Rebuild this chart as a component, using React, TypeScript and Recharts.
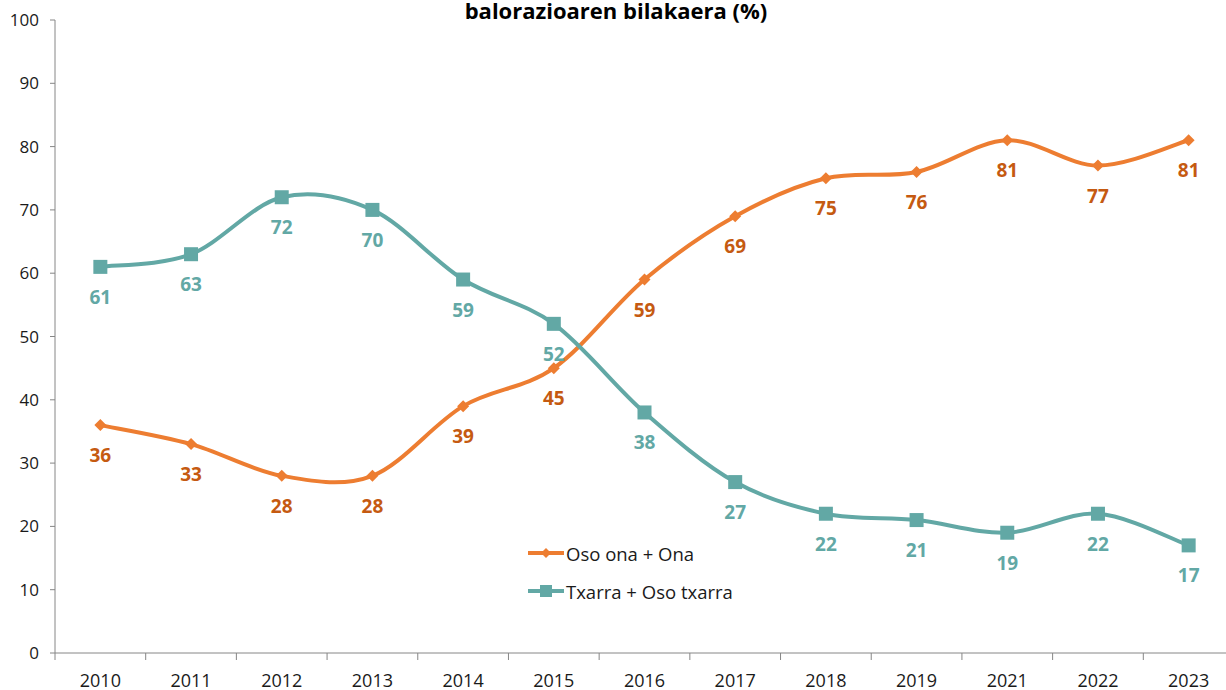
import React from 'react';
import { LineChart, Line, XAxis, YAxis, LabelList } from 'recharts';

const years = ['2010', '2011', '2012', '2013', '2014', '2015', '2016', '2017', '2018', '2019', '2021', '2022', '2023'];
const good = [36, 33, 28, 28, 39, 45, 59, 69, 75, 76, 81, 77, 81];
const bad = [61, 63, 72, 70, 59, 52, 38, 27, 22, 21, 19, 22, 17];
const yTicks = [0, 10, 20, 30, 40, 50, 60, 70, 80, 90, 100];

const goodName = 'Oso ona + Ona';
const badName = 'Txarra + Oso txarra';

const data = years.map((year, i) => ({ year, good: good[i], bad: bad[i] }));

const ORANGE = '#ED7D31';
const ORANGE_TEXT = '#C55A11';
const TEAL = '#62A8A5';
const AXIS = '#868686';
const FONT = '"Open Sans", "Liberation Sans", sans-serif';

const CHART_W = 1240;
const CHART_H = 690;
const PLOT_LEFT = 55;
const PLOT_RIGHT = 1234;
const HALF_BAND = (PLOT_RIGHT - PLOT_LEFT) / years.length / 2;

if (typeof document !== 'undefined') document.body.style.margin = '0';

// Excel-like smoothing (Catmull-Rom through the points)
const excelCurve = (context: any) => {
  let pts: [number, number][] = [];
  return {
    areaStart() {},
    areaEnd() {},
    lineStart() {
      pts = [];
    },
    point(x: number, y: number) {
      pts.push([+x, +y]);
    },
    lineEnd() {
      if (!pts.length) return;
      context.moveTo(pts[0][0], pts[0][1]);
      for (let i = 0; i < pts.length - 1; i++) {
        const p0 = pts[i - 1] || pts[i];
        const p1 = pts[i];
        const p2 = pts[i + 1];
        const p3 = pts[i + 2] || p2;
        context.bezierCurveTo(
          p1[0] + (p2[0] - p0[0]) / 6,
          p1[1] + (p2[1] - p0[1]) / 6,
          p2[0] - (p3[0] - p1[0]) / 6,
          p2[1] - (p3[1] - p1[1]) / 6,
          p2[0],
          p2[1]
        );
      }
    },
  };
};

const Diamond = (props: any) => {
  const { cx, cy } = props;
  if (cx == null || cy == null) return null;
  const r = 6;
  return <path d={`M${cx},${cy - r}L${cx + r},${cy}L${cx},${cy + r}L${cx - r},${cy}Z`} fill={ORANGE} />;
};

const Square = (props: any) => {
  const { cx, cy } = props;
  if (cx == null || cy == null) return null;
  return <rect x={cx - 7} y={cy - 7} width={14} height={14} fill={TEAL} />;
};

const makeLabel = (color: string) => (props: any) => {
  const { x, y, value } = props;
  return (
    <text
      x={x}
      y={y + 37}
      textAnchor="middle"
      fill={color}
      fontSize={19}
      fontWeight="bold"
      fontFamily={FONT}
    >
      {value}
    </text>
  );
};

const XTick = (props: any) => {
  const { x, y, payload, index } = props;
  return (
    <g>
      {index === 0 && <line x1={x - HALF_BAND} x2={x - HALF_BAND} y1={y} y2={y + 7} stroke={AXIS} />}
      <line x1={x + HALF_BAND} x2={x + HALF_BAND} y1={y} y2={y + 7} stroke={AXIS} />
      <text x={x} y={y + 34} textAnchor="middle" fill="#1a1a1a" fontSize={18} fontFamily={FONT}>
        {payload.value}
      </text>
    </g>
  );
};

const LegendBox = () => (
  <div
    style={{
      position: 'absolute',
      left: 527,
      top: 534,
      fontFamily: FONT,
      fontSize: 18.5,
      color: '#1a1a1a',
      zIndex: 1,
    }}
  >
    {[
      { name: goodName, color: ORANGE, marker: 'diamond' },
      { name: badName, color: TEAL, marker: 'square' },
    ].map((item) => (
      <div key={item.name} style={{ display: 'flex', alignItems: 'center', height: 38 }}>
        <svg width={38} height={16} style={{ marginRight: 1 }}>
          <line x1={1} x2={37} y1={8} y2={8} stroke={item.color} strokeWidth={4} />
          {item.marker === 'diamond' ? (
            <path d="M19,3L24,8L19,13L14,8Z" fill={item.color} />
          ) : (
            <rect x={13} y={2} width={12} height={12} fill={item.color} />
          )}
        </svg>
        <span>{item.name}</span>
      </div>
    ))}
  </div>
);

const App: React.FC = () => {
  return (
    <div style={{ width: 1226, height: 690, overflow: 'hidden', position: 'relative', background: '#fff' }}>
      <div
        style={{
          position: 'absolute',
          left: 0,
          width: 1232,
          top: -5,
          lineHeight: '30px',
          textAlign: 'center',
          fontFamily: FONT,
          fontWeight: 'bold',
          fontSize: 22,
          color: '#000',
          zIndex: 1,
        }}
      >
        balorazioaren bilakaera (%)
      </div>
      <LegendBox />
      <LineChart
        width={CHART_W}
        height={CHART_H}
        data={data}
        margin={{ top: 20, right: CHART_W - PLOT_RIGHT, left: 0, bottom: 0 }}
      >
        <XAxis
          dataKey="year"
          scale="band"
          height={37}
          axisLine={{ stroke: AXIS }}
          tickLine={false}
          tickSize={0}
          tickMargin={0}
          interval={0}
          tick={<XTick />}
        />
        <YAxis
          width={PLOT_LEFT}
          domain={[0, 100]}
          ticks={yTicks}
          interval={0}
          axisLine={{ stroke: AXIS }}
          tickLine={{ stroke: AXIS }}
          tickSize={5}
          tickMargin={11}
          tick={{ fill: '#1a1a1a', fontSize: 17, fontFamily: FONT }}
        />
        <Line
          type={excelCurve as any}
          dataKey="good"
          name={goodName}
          stroke={ORANGE}
          strokeWidth={4}
          dot={<Diamond />}
          activeDot={false}
          isAnimationActive={false}
        >
          <LabelList dataKey="good" content={makeLabel(ORANGE_TEXT)} />
        </Line>
        <Line
          type={excelCurve as any}
          dataKey="bad"
          name={badName}
          stroke={TEAL}
          strokeWidth={4}
          dot={<Square />}
          activeDot={false}
          isAnimationActive={false}
        >
          <LabelList dataKey="bad" content={makeLabel(TEAL)} />
        </Line>
      </LineChart>
    </div>
  );
};

export default App;
